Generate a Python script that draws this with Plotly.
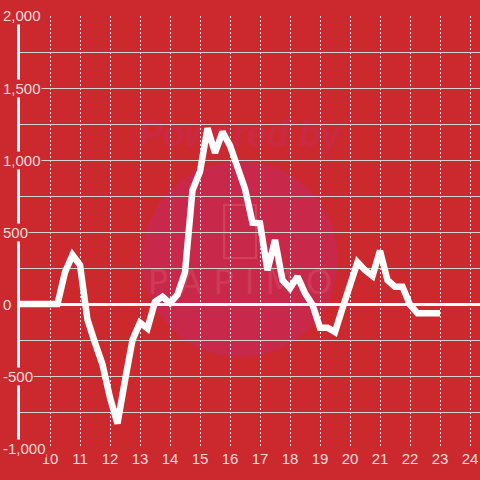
import plotly.graph_objects as go

# ---- data ----
hours = [9.0, 9.25, 9.5, 9.75, 10.0, 10.25, 10.5, 10.75, 11.0, 11.25, 11.5, 11.75,
         12.0, 12.25, 12.5, 12.75, 13.0, 13.25, 13.5, 13.75, 14.0, 14.25, 14.5, 14.75,
         15.0, 15.25, 15.5, 15.75, 16.0, 16.25, 16.5, 16.75, 17.0, 17.25, 17.5, 17.75,
         18.0, 18.25, 18.5, 18.75, 19.0, 19.25, 19.5, 19.75, 20.0, 20.25, 20.5, 20.75,
         21.0, 21.25, 21.5, 21.75, 22.0, 22.25, 22.5, 22.75, 23.0]
values = [0, 0, 0, 0, 0, 0, 220, 340, 270, -110, -270, -420,
          -650, -830, -530, -250, -130, -170, 15, 50, 5, 65, 220, 790,
          920, 1220, 1050, 1195, 1100, 960, 800, 565, 560, 235, 445, 165,
          110, 190, 75, -5, -165, -165, -195, -30, 130, 290, 235, 195,
          370, 165, 120, 120, -5, -65, -65, -65, -65]
x_ticks = [10, 11, 12, 13, 14, 15, 16, 17, 18, 19, 20, 21, 22, 23, 24]
y_ticks = [-1000, -500, 0, 500, 1000, 1500, 2000]
y_tick_labels = ["-1,000", "-500", "0", "500", "1,000", "1,500", "2,000"]

BG = "#cc292f"
TXT = "#f2dcdc"
FONT = "Liberation Sans, Arial, sans-serif"

fig = go.Figure()
fig.add_trace(go.Scatter(x=hours, y=values, mode="lines",
                         line=dict(color="#ffffff", width=6.5),
                         hoverinfo="skip", showlegend=False))

# watermark
fig.add_shape(type="circle", xref="paper", yref="paper",
              x0=(240 - 98) / 480, x1=(240 + 98) / 480,
              y0=1 - (259 + 98) / 480, y1=1 - (259 - 98) / 480,
              fillcolor="#c8284a", line=dict(width=0), layer="below")
fig.add_shape(type="rect", xref="paper", yref="paper",
              x0=224 / 480, x1=256 / 480, y0=1 - 258 / 480, y1=1 - 205 / 480,
              fillcolor="rgba(0,0,0,0)", line=dict(color="#d2405a", width=2), layer="below")
fig.add_shape(type="rect", xref="paper", yref="paper",
              x0=140 / 480, x1=340 / 480, y0=1 - 150 / 480, y1=1 - 110 / 480,
              fillcolor="rgba(0,0,0,0)", line=dict(width=0), layer="below",
              label=dict(text="<b><i>Powered by</i></b>",
                         font=dict(size=36, color="#c92a42", family=FONT)))
fig.add_shape(type="rect", xref="paper", yref="paper",
              x0=160 / 480, x1=320 / 480, y0=1 - 300 / 480, y1=1 - 260 / 480,
              fillcolor="rgba(0,0,0,0)", line=dict(width=0), layer="below",
              label=dict(text="P A P I M O",
                         font=dict(size=34, color="#cf3a56", family="DejaVu Sans")))

# y tick labels with background boxes
for v, t in zip(y_ticks, y_tick_labels):
    fig.add_annotation(x=2 / 480, xref="paper", y=v, yref="y", text=t,
                       showarrow=False, xanchor="left", yanchor="middle",
                       bgcolor=BG, borderpad=0,
                       font=dict(size=15, color=TXT, family=FONT))

fig.update_layout(
    width=480, height=480,
    margin=dict(l=0, r=0, t=0, b=0),
    paper_bgcolor=BG, plot_bgcolor=BG,
    showlegend=False,
    xaxis=dict(domain=[20 / 480, 1], range=[9, 24 + 1 / 3],
               tickvals=x_ticks, ticktext=[str(v) for v in x_ticks],
               showgrid=True, gridcolor="#f0e0e0", gridwidth=1, griddash="2px,2px",
               zeroline=False, showline=False, ticks="",
               tickfont=dict(size=15, color=TXT, family=FONT),
               automargin=False, fixedrange=True),
    yaxis=dict(domain=[32 / 480, 464 / 480], range=[-1000, 2000],
               tickvals=[-1000, -750, -500, -250, 0, 250, 500, 750, 1000, 1250, 1500, 1750, 2000],
               showticklabels=False,
               showgrid=True, gridcolor="#d2d2d2", gridwidth=1,
               zeroline=True, zerolinecolor="#ffffff", zerolinewidth=3,
               showline=True, linecolor="#ffffff", linewidth=3,
               ticks="", automargin=False, fixedrange=True),
)

fig.write_html("out.html", config={"displayModeBar": False},
               post_script="document.body.style.margin='0';document.body.style.background='#cc292f';")
